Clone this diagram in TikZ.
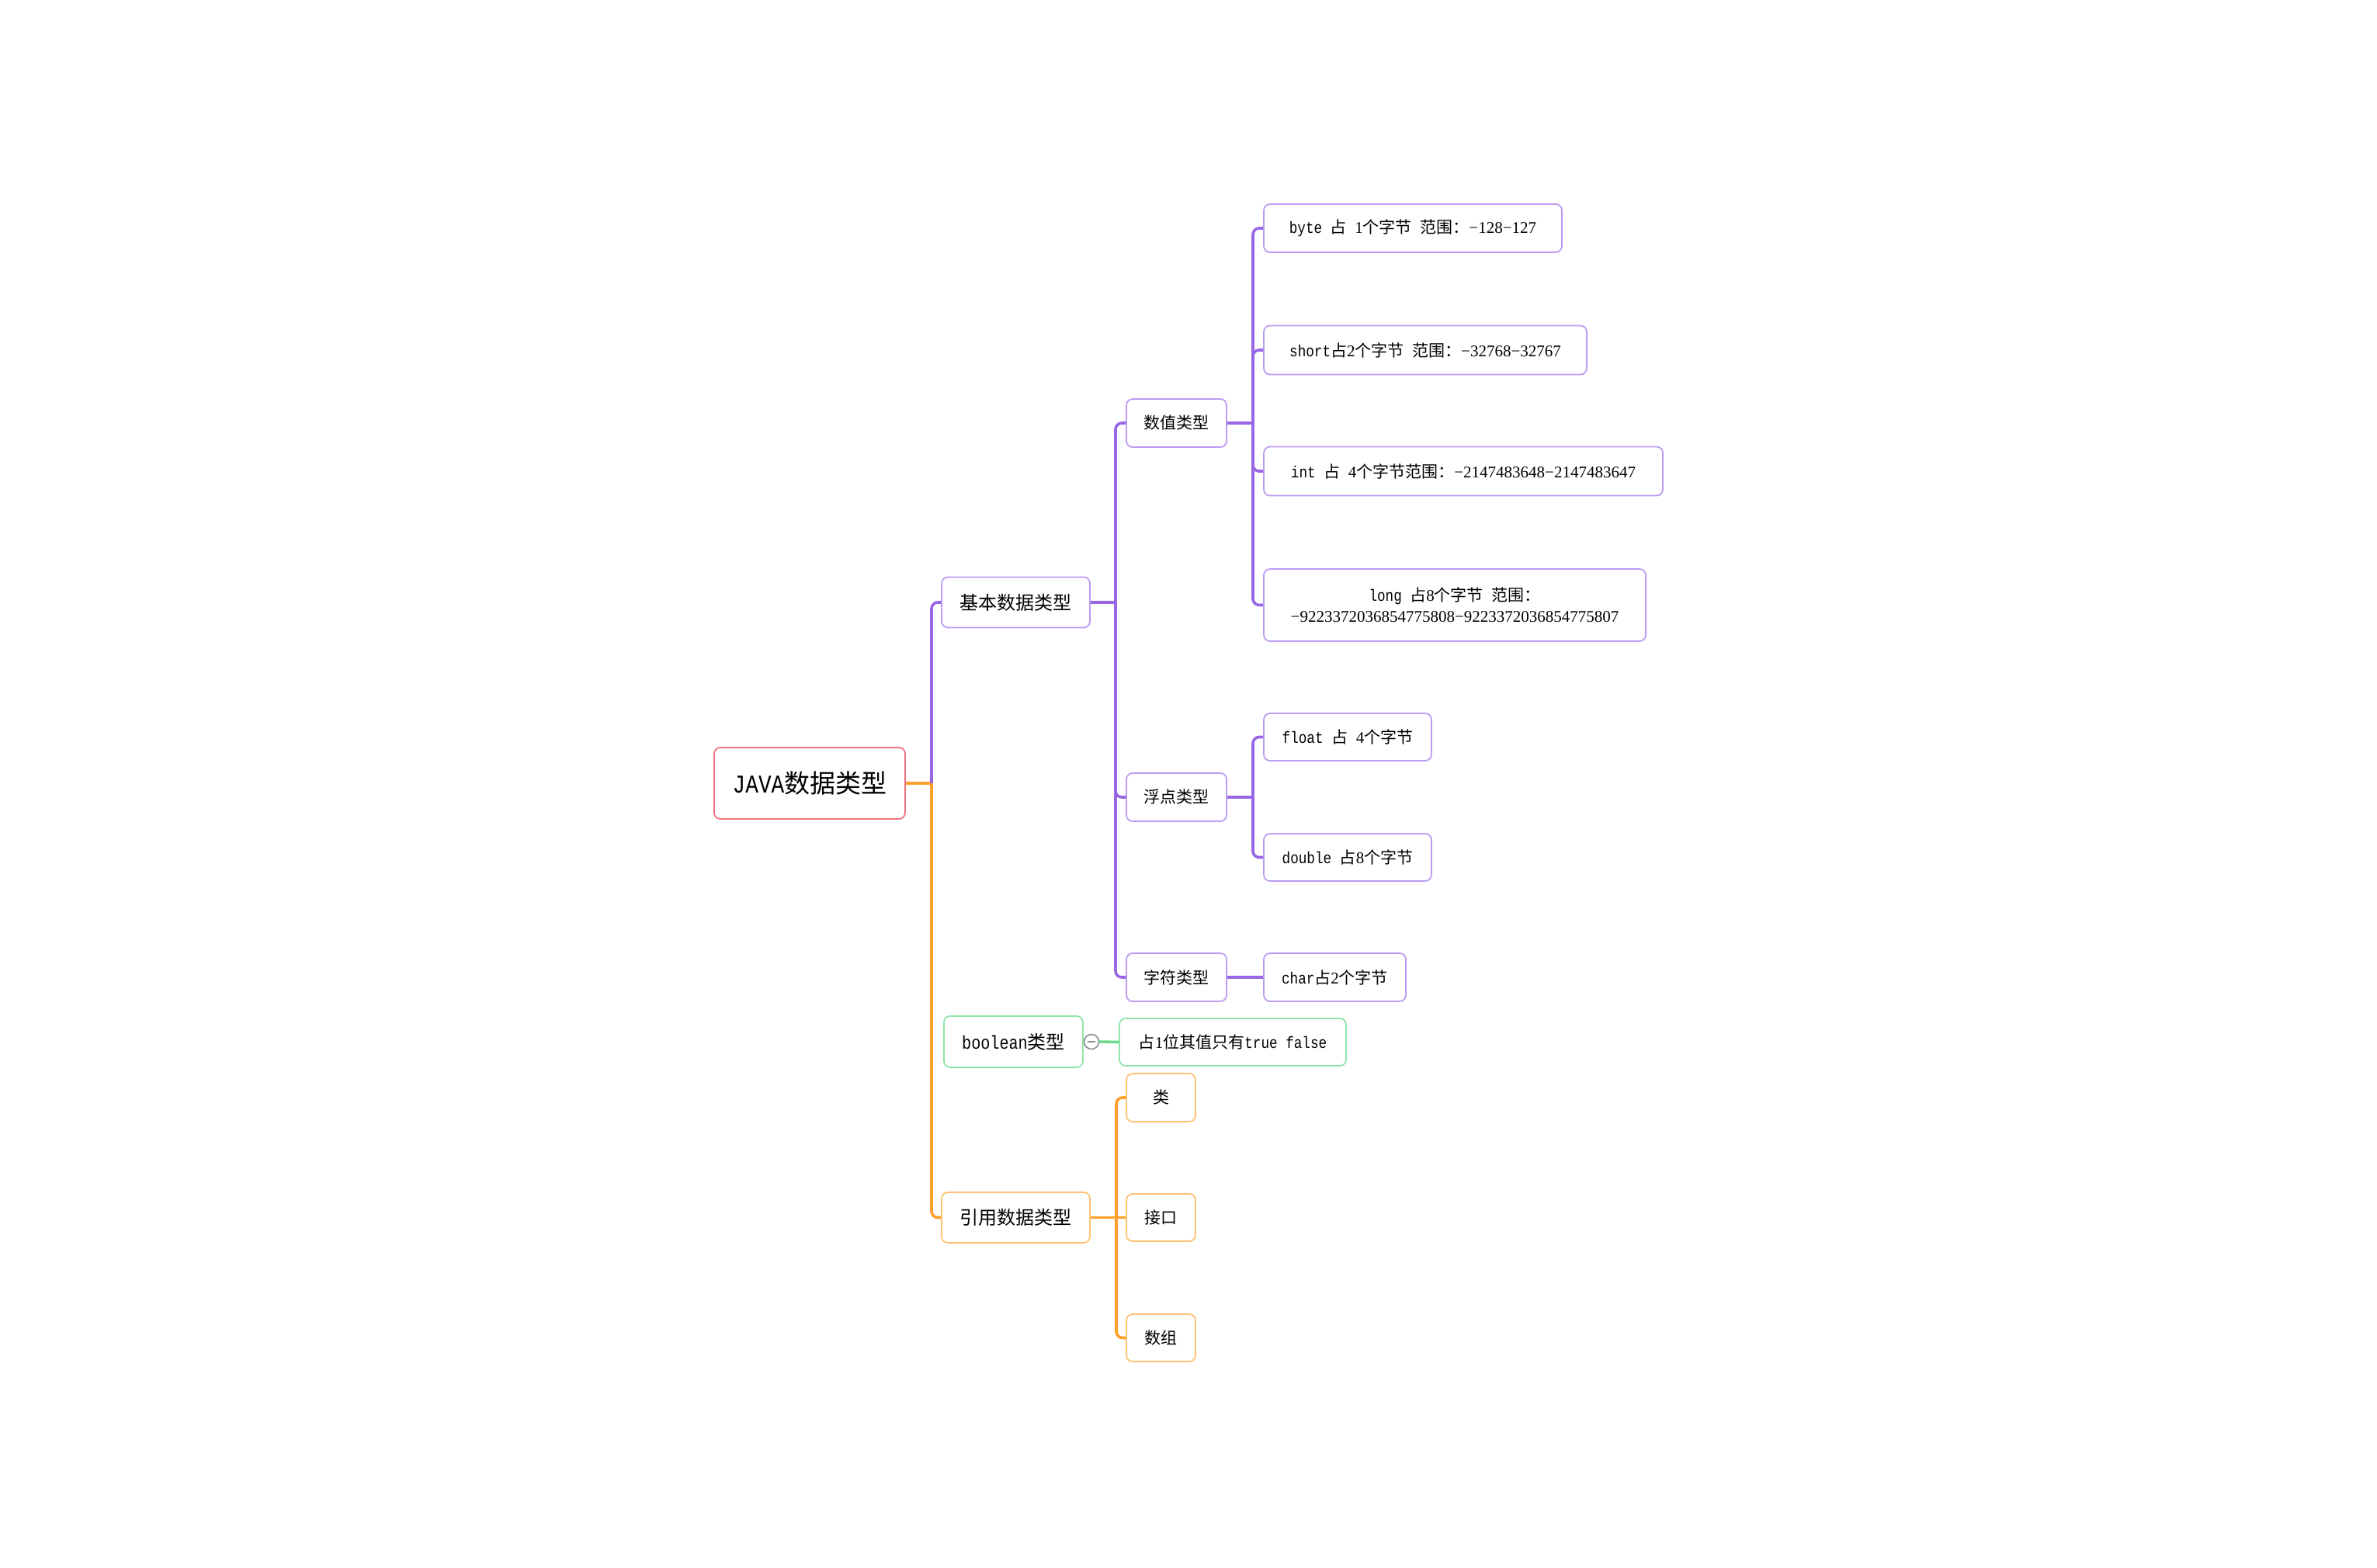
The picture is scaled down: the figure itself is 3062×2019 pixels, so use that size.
\documentclass[tikz,border=0pt]{standalone}
\usepackage{fontspec}
\setmainfont{Noto Sans CJK SC}
\newfontfamily\monof[FakeStretch=0.84]{Liberation Mono}
\newfontfamily\digf{Liberation Serif}
\newcommand\Ml[1]{{\monof #1}}
\newcommand\Dg[1]{{\digf #1}}
\definecolor{pline}{HTML}{9966E6}
\definecolor{pborder}{HTML}{BC9CF2}
\definecolor{oline}{HTML}{FFA02A}
\definecolor{oborder}{HTML}{FFC272}
\definecolor{gline}{HTML}{6CD88C}
\definecolor{gborder}{HTML}{90E4A8}
\definecolor{rborder}{HTML}{F2727E}
\definecolor{colgray}{HTML}{8C909A}
\begin{document}
\begin{tikzpicture}[x=1pt,y=-1pt,
  box/.style={draw, rounded corners=8pt, line width=1.8pt, inner sep=0pt, align=center, fill=white, text=black},
  pbox/.style={box, draw=pborder},
  obox/.style={box, draw=oborder},
  gbox/.style={box, draw=gborder},
  fa/.style={font=\fontsize{21pt}{27pt}\selectfont},
  fb/.style={font=\fontsize{24pt}{30pt}\selectfont},
  fc/.style={font=\fontsize{33pt}{40pt}\selectfont},
  pcon/.style={draw=pline, line width=3.6pt, rounded corners=8pt},
  ocon/.style={draw=oline, line width=3.6pt, rounded corners=8pt},
  gcon/.style={draw=gline, line width=3.6pt}
]
\fill[white] (0,0) rectangle (3062,2019);
\useasboundingbox (0,0) rectangle (3062,2019);

% coordinates of branch trunks
\coordinate (t1) at (1200,1009);
\coordinate (t2) at (1437,776);
\coordinate (t3) at (1614,545);
\coordinate (t4) at (1614,1027);
\coordinate (t5) at (1438,1568.5);

% connectors (drawn first, nodes on top)
\coordinate (rootE) at (1166,1009);
\draw[ocon] (rootE) -- (t1);
\draw[pcon] (t1) |- (1213,776);
\draw[ocon] (t1) |- (1213,1568.5);

% nodes
\node[box, draw=rborder, fc, minimum width=246pt, minimum height=92pt] (root) at (1043,1009) {\Ml{JAVA}数据类型};

\node[pbox, fb, minimum width=191pt, minimum height=65pt] (jb) at (1308.5,776) {基本数据类型};
\node[gbox, fb, minimum width=179pt, minimum height=66pt] (bl) at (1305.5,1342) {\Ml{boolean}类型};
\node[obox, fb, minimum width=191pt, minimum height=65pt] (yy) at (1308.5,1568.5) {引用数据类型};

\node[pbox, fa, minimum width=129pt, minimum height=62pt] (sz) at (1515.5,545) {数值类型};
\node[pbox, fa, minimum width=129pt, minimum height=62pt] (fd) at (1515.5,1027) {浮点类型};
\node[pbox, fa, minimum width=129pt, minimum height=62pt] (zf) at (1515.5,1259) {字符类型};

\node[pbox, fa, minimum width=384pt, minimum height=62pt] (by) at (1820,294) {\Ml{byte }占\Ml{ }\Dg{1}个字节\Ml{ }范围：\Dg{−128−127}};
\node[pbox, fa, minimum width=416pt, minimum height=63pt] (sh) at (1836,451) {\Ml{short}占\Dg{2}个字节\Ml{ }范围：\Dg{−32768−32767}};
\node[pbox, fa, minimum width=514pt, minimum height=63pt] (it) at (1885,607) {\Ml{int }占\Ml{ }\Dg{4}个字节范围：\Dg{−2147483648−2147483647}};
\node[pbox, fa, minimum width=492pt, minimum height=93pt] (lg) at (1874,779.5) {\Ml{long }占\Dg{8}个字节\Ml{ }范围：\\\Dg{−9223372036854775808−9223372036854775807}};

\node[pbox, fa, minimum width=216pt, minimum height=61pt] (fl) at (1736,949.5) {\Ml{float }占\Ml{ }\Dg{4}个字节};
\node[pbox, fa, minimum width=216pt, minimum height=61pt] (db) at (1736,1104.5) {\Ml{double }占\Dg{8}个字节};
\node[pbox, fa, minimum width=183pt, minimum height=62pt] (ch) at (1719.5,1259) {\Ml{char}占\Dg{2}个字节};

\node[gbox, fa, minimum width=292pt, minimum height=61pt] (bv) at (1588,1342.5) {占\Dg{1}位其值只有\Ml{true false}};

\node[obox, fa, minimum width=89pt, minimum height=62pt] (lei) at (1495.5,1414) {类};
\node[obox, fa, minimum width=89pt, minimum height=61pt] (jk) at (1495.5,1568.5) {接口};
\node[obox, fa, minimum width=89pt, minimum height=61pt] (sg) at (1495.5,1723.5) {数组};

% level connectors
\draw[pcon] (jb.east) -- (t2);
\draw[pcon] (t2) |- (sz.west);
\draw[pcon] (t2) |- (fd.west);
\draw[pcon] (t2) |- (zf.west);

\draw[pcon] (sz.east) -- (t3);
\draw[pcon] (t3) |- (by.west);
\draw[pcon] (t3) |- (sh.west);
\draw[pcon] (t3) |- (it.west);
\draw[pcon] (t3) |- (lg.west);

\draw[pcon] (fd.east) -- (t4);
\draw[pcon] (t4) |- (fl.west);
\draw[pcon] (t4) |- (db.west);

\draw[pcon] (zf.east) -- (ch.west);

\node[circle, draw=colgray, line width=1.6pt, minimum size=19pt, inner sep=0pt, fill=white] (col) at (1406,1342) {};
\draw[colgray, line width=2pt] ([xshift=-5pt]col.center) -- ([xshift=5pt]col.center);
\draw[gcon] (col.east) -- (bv.west);

\draw[ocon] (yy.east) -- (t5);
\draw[ocon] (t5) |- (lei.west);
\draw[ocon] (t5) -- (jk.west);
\draw[ocon] (t5) |- (sg.west);
\end{tikzpicture}
\end{document}
